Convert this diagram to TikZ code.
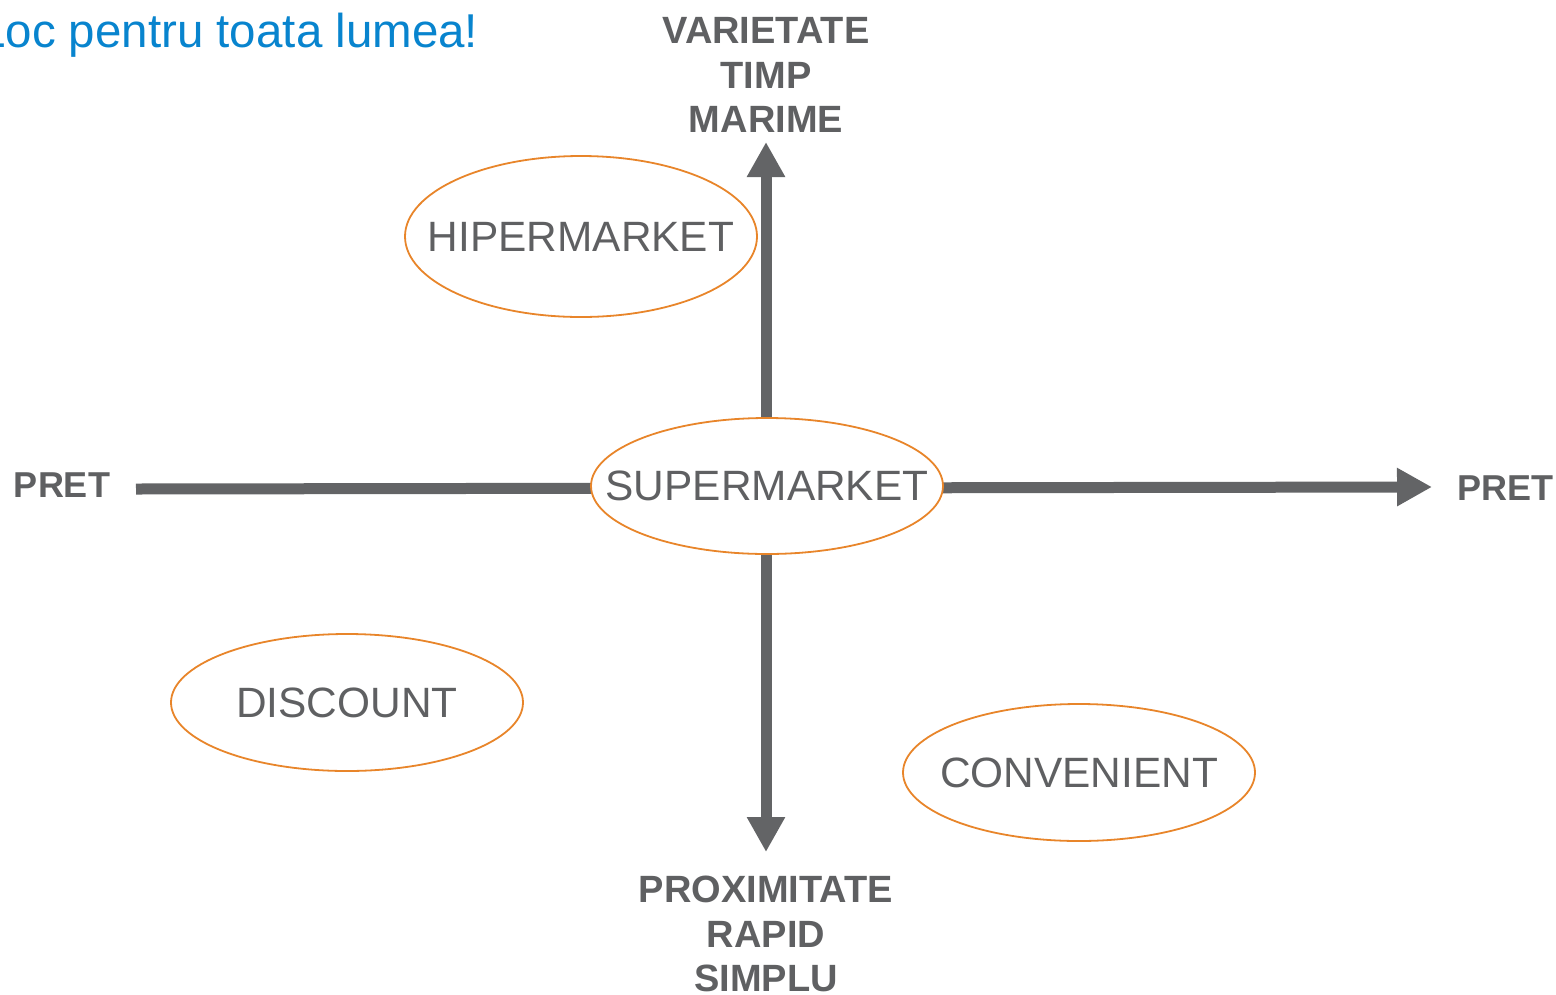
\documentclass[tikz,border=0pt]{standalone}
\usepackage{fontspec}
\setmainfont{Liberation Sans}
\usetikzlibrary{arrows.meta,shapes.geometric}
\definecolor{axisgray}{RGB}{99,100,102}
\definecolor{textgray}{RGB}{95,96,98}
\definecolor{segorange}{RGB}{232,133,42}
\definecolor{titleblue}{RGB}{8,132,206}
% centred text that does not widen the ellipse around it
\newcommand{\segtext}[1]{\makebox[0pt]{#1}}
\begin{document}
\begin{tikzpicture}[x=1pt,y=-1pt,
  axis/.style={draw=axisgray,line width=11pt},
  axishead/.style={-{Triangle[width=36pt,length=35pt]}},
  segment/.style={draw=segorange,line width=1.8pt,fill=white,ellipse,
    minimum width=352pt,inner sep=0pt,text=textgray,
    font=\fontsize{42.4}{48}\selectfont},
  axislabel/.style={text=textgray,align=center,inner sep=0pt,
    font=\bfseries\fontsize{36}{45}\selectfont},
  poleslabel/.style={axislabel,font=\bfseries\fontsize{38}{44.5}\selectfont}]
\useasboundingbox (0,0) rectangle (1556,994);
\clip (0,0) rectangle (1556,994);

% heading, running off the left edge
\node[anchor=base west,inner sep=0pt,text=titleblue,
  font=\fontsize{47.5}{56}\selectfont] (title) at (-21,47) {Loc pentru toata lumea!};

% axes
\coordinate (hstart) at (136,489);
\coordinate (hend) at (1432,487);
\coordinate (vtop) at (766,142);
\coordinate (vbot) at (766,852);
\draw[axis,axishead] (hstart) -- (hend);
\draw[axis,{Triangle[width=36pt,length=35pt]}-{Triangle[width=36pt,length=35pt]}] (vtop) -- (vbot);

% axis labels
\node[axislabel] (pretl) at (62,485) {PRET};
\node[axislabel] (pretr) at (1505,488) {PRET};
\node[poleslabel] (up) at (766,75) {VARIETATE\\TIMP\\MARIME};
\node[poleslabel] (down) at (766,934) {PROXIMITATE\\RAPID\\SIMPLU};

% store formats
\node[segment,minimum height=161pt] (hiper) at (581,236.5) {\segtext{HIPERMARKET}};
\node[segment,minimum height=136pt] (super) at (767,486) {\segtext{SUPERMARKET}};
\node[segment,minimum height=137pt] (disc) at (347,702.5) {\segtext{DISCOUNT}};
\node[segment,minimum height=137pt] (conv) at (1079,772.5) {\segtext{CONVENIENT}};
\end{tikzpicture}
\end{document}
